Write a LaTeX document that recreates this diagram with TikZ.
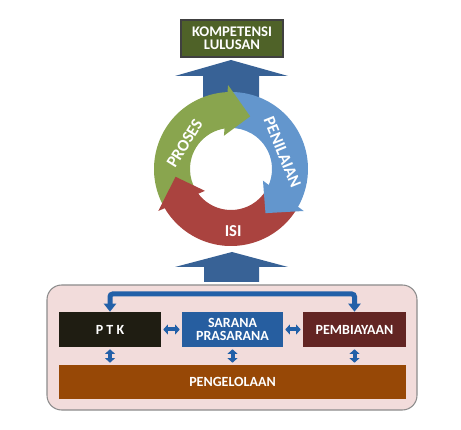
\documentclass[tikz,border=0pt]{standalone}
\usepackage{fontspec}
\setmainfont{Carlito}
\usetikzlibrary{arrows.meta}
\definecolor{kompgreen}{RGB}{79,98,40}
\definecolor{arrowblue}{RGB}{56,98,150}
\definecolor{prosesgreen}{RGB}{137,165,78}
\definecolor{nilaiblue}{RGB}{99,150,205}
\definecolor{isired}{RGB}{170,67,63}
\definecolor{boxpink}{RGB}{242,220,219}
\definecolor{ptkblack}{RGB}{31,29,18}
\definecolor{saranablue}{RGB}{38,94,160}
\definecolor{biayared}{RGB}{99,37,35}
\definecolor{kelolabrown}{RGB}{151,72,6}
\definecolor{linkblue}{RGB}{34,96,168}
\newcommand\ringband[3]{\fill[#1] (#2:77) arc[start angle=#2,end angle=#3,radius=77] -- (#3:41) arc[start angle=#3,end angle=#2,radius=41] -- cycle;}
\newcommand\ringhead[2]{\fill[#1] (#2:84) -- ({#2-22}:56) -- ({#2+10}:34) -- cycle;}
\begin{document}
\begin{tikzpicture}[x=0.75pt,y=0.75pt,
  box/.style={text=white,font=\bfseries\fontsize{10.5}{10}\selectfont,align=center,inner sep=0pt,minimum height=26.25pt},
  ring/.style={text=white,font=\bfseries\fontsize{12.5}{13}\selectfont},
  link/.style={linkblue,line width=3.75pt,rounded corners=2pt,{Triangle[width=9pt,length=6pt]}-{Triangle[width=9pt,length=6pt]}},
  dbl/.style={linkblue,line width=3pt,{Triangle[width=7.5pt,length=3.5pt]}-{Triangle[width=7.5pt,length=3.5pt]},shorten <=1.5pt,shorten >=1.5pt}]
\useasboundingbox (0,0) rectangle (461,429);
\node[box,font=\bfseries\fontsize{11}{10}\selectfont,draw={rgb,255:red,64;green,64;blue,64},line width=1pt,fill=kompgreen,minimum width=76.5pt,minimum height=27.75pt] (komp) at (232,390.5) {KOMPETENSI\\LULUSAN};
\fill[arrowblue] (203,320) -- (203,353) -- (175,353) -- (231,369) -- (288,353) -- (259,353) -- (259,320) -- cycle;
\fill[arrowblue] (204,147) -- (204,162) -- (175,162) -- (232,177) -- (288,162) -- (259,162) -- (259,147) -- cycle;
% siklus
\begin{scope}[shift={(231,260)}]
\ringband{prosesgreen}{210}{92}
\ringband{nilaiblue}{92}{-30}
\ringband{isired}{330}{210}
\ringhead{prosesgreen}{92}
\ringhead{nilaiblue}{-30}
\ringhead{isired}{210}
\node[ring,rotate=58] (proses) at (151:53) {PROSES};
\node[ring,rotate=-68] (penilaian) at (18:54) {PENILAIAN};
\node[ring] (isi) at (-88:62) {ISI};
\end{scope}
\draw[draw={rgb,255:red,140;green,140;blue,140},line width=0.8pt,fill=boxpink,rounded corners=11pt] (47,19) rectangle (417,144);
\node[box,fill=ptkblack,minimum width=76.5pt] (ptk) at (110,99.5) {P T K};
\node[box,fill=saranablue,minimum width=75.75pt] (sarana) at (232.5,99.5) {SARANA\\PRASARANA};
\node[box,fill=biayared,minimum width=77.25pt] (biaya) at (354.5,99.5) {PEMBIAYAAN};
\node[box,fill=kelolabrown,minimum width=260.25pt,minimum height=25.5pt] (kelola) at (232.5,47) {PENGELOLAAN};
\coordinate (busy) at (0,135);
\draw[link] (ptk.north) -- (ptk.north |- busy) -- (biaya.north |- busy) -- (biaya.north);
\draw[dbl] (ptk.east) -- (sarana.west);
\draw[dbl] (sarana.east) -- (biaya.west);
\draw[dbl] (ptk.south) -- (ptk.south |- kelola.north);
\draw[dbl] (sarana.south) -- (sarana.south |- kelola.north);
\draw[dbl] (biaya.south) -- (biaya.south |- kelola.north);
\end{tikzpicture}
\end{document}
